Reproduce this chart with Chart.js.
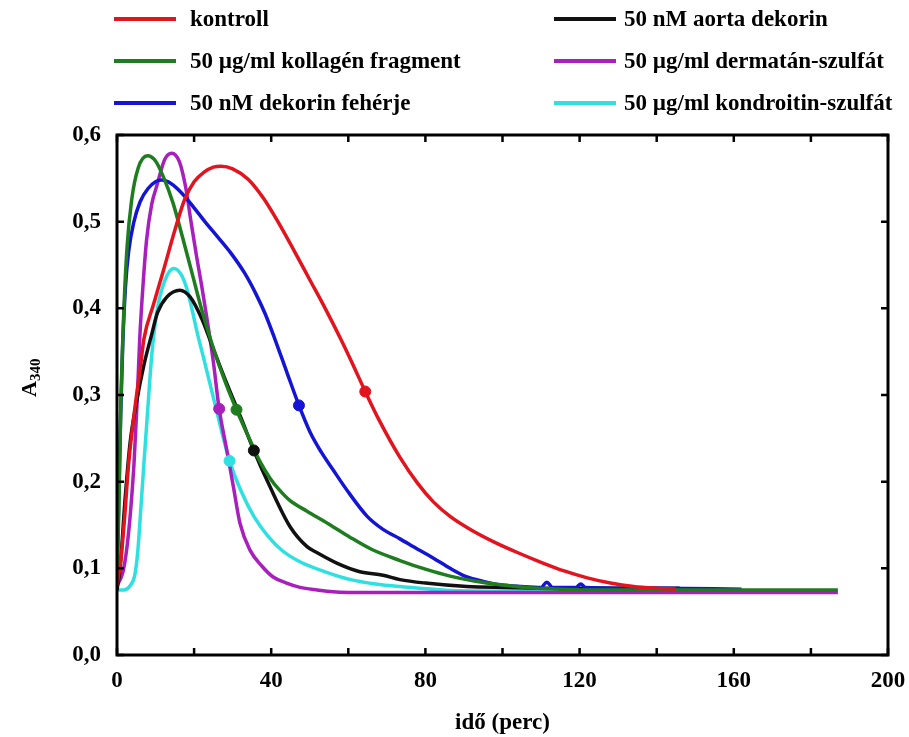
<!DOCTYPE html>
<html>
<head>
<meta charset="utf-8">
<script src="https://cdn.jsdelivr.net/npm/chart.js@4.4.0/dist/chart.umd.min.js"></script>
<style>
  html, body { margin: 0; padding: 0; background: #fff; }
  #wrap { width: 909px; height: 737px; }
</style>
</head>
<body>
<div id="wrap"><canvas id="myChart" width="909" height="737"></canvas></div>
<script>
// idő (perc) / A340 értékek
const kontrollX = [0, 1, 2, 3, 4.5, 6, 7, 9.5, 12, 15, 17.5, 20, 22.5, 25, 27, 30, 34, 38, 42, 46, 50, 54, 58, 61, 64.4, 68, 73.4, 78, 82, 86.4, 92, 98, 104, 110, 116, 122, 128, 134, 140, 145];
const kontrollY = [0.08, 0.11, 0.16, 0.22, 0.28, 0.33, 0.365, 0.405, 0.443, 0.49, 0.525, 0.546, 0.557, 0.563, 0.564, 0.561, 0.549, 0.527, 0.498, 0.466, 0.433, 0.400, 0.365, 0.337, 0.304, 0.271, 0.228, 0.198, 0.177, 0.160, 0.144, 0.130, 0.118, 0.107, 0.097, 0.089, 0.083, 0.079, 0.077, 0.076];

const kollagenX = [0, 0.5, 1, 1.8, 2.6, 3.8, 5.5, 7.9, 10, 12, 14.5, 17, 19.5, 22, 25, 28, 31, 34.5, 37, 39.7, 42, 44.9, 49.3, 55, 60.4, 66, 73.4, 80, 86.4, 93, 99.4, 106, 115, 130, 160, 187];
const kollagenY = [0.09, 0.17, 0.29, 0.40, 0.47, 0.525, 0.562, 0.576, 0.570, 0.552, 0.522, 0.482, 0.440, 0.398, 0.354, 0.316, 0.283, 0.248, 0.224, 0.204, 0.191, 0.178, 0.166, 0.151, 0.136, 0.122, 0.109, 0.099, 0.091, 0.085, 0.081, 0.078, 0.076, 0.075, 0.075, 0.075];

const dekorinX = [0, 0.4, 0.9, 1.5, 2.2, 3, 4.4, 6, 8, 10, 11.6, 14, 17, 20, 22.8, 26, 29.5, 33.2, 36, 38.4, 41, 44, 47.2, 50, 53, 56, 60, 64.9, 69, 73.4, 78, 82, 86.4, 90.8, 95, 99.4, 105, 110, 111.5, 113, 119, 120.3, 121.5, 140, 162];
const dekorinY = [0.09, 0.17, 0.27, 0.36, 0.425, 0.465, 0.50, 0.523, 0.538, 0.546, 0.548, 0.544, 0.532, 0.516, 0.500, 0.483, 0.464, 0.440, 0.417, 0.394, 0.364, 0.327, 0.288, 0.258, 0.234, 0.214, 0.188, 0.160, 0.145, 0.134, 0.122, 0.112, 0.100, 0.090, 0.085, 0.081, 0.079, 0.078, 0.084, 0.078, 0.078, 0.082, 0.078, 0.077, 0.076];

const aortaX = [0, 0.8, 2.1, 3.4, 5, 7, 9, 10.5, 12.9, 16.3, 19, 22, 25, 28.5, 32.3, 35.5, 39.7, 44.9, 49.3, 51.9, 57, 63, 69, 73.4, 80, 90.8, 100, 120, 146];
const aortaY = [0.075, 0.10, 0.18, 0.245, 0.29, 0.335, 0.37, 0.395, 0.413, 0.421, 0.413, 0.388, 0.353, 0.313, 0.272, 0.236, 0.194, 0.148, 0.125, 0.118, 0.106, 0.096, 0.092, 0.087, 0.083, 0.079, 0.078, 0.077, 0.077];

const dermatanX = [0, 1.5, 2.6, 3.5, 4.4, 5.2, 5.9, 6.8, 7.7, 9, 10.3, 12.4, 14.2, 16.2, 17.8, 19.2, 20.6, 22, 23.2, 25, 26.5, 28.5, 30.2, 31.9, 34.5, 37.5, 40.5, 44, 47.5, 52, 56, 65, 100, 140, 187];
const dermatanY = [0.08, 0.095, 0.125, 0.165, 0.22, 0.29, 0.365, 0.43, 0.48, 0.52, 0.541, 0.572, 0.579, 0.569, 0.54, 0.50, 0.461, 0.425, 0.392, 0.338, 0.284, 0.236, 0.194, 0.152, 0.121, 0.103, 0.090, 0.083, 0.078, 0.075, 0.073, 0.072, 0.072, 0.072, 0.072];

const kondroitinX = [0, 1.8, 3.4, 4.6, 5.4, 6.2, 7.0, 8.0, 9.0, 10.3, 12.4, 14.7, 16.5, 18.1, 19.5, 20.8, 22.5, 25.5, 29.2, 32.3, 35.5, 39.2, 43, 47.7, 54, 60.6, 67, 73.4, 89, 130];
const kondroitinY = [0.075, 0.075, 0.08, 0.092, 0.12, 0.17, 0.222, 0.285, 0.345, 0.395, 0.432, 0.446, 0.440, 0.423, 0.398, 0.372, 0.342, 0.288, 0.224, 0.188, 0.160, 0.137, 0.120, 0.107, 0.096, 0.087, 0.082, 0.079, 0.074, 0.073];

// jelölt pontok (félérték)
const markerX = [64.4, 31, 47.2, 35.5, 26.5, 29.2];
const markerY = [0.304, 0.283, 0.288, 0.236, 0.284, 0.224];

const seriesNames = ['kontroll', '50 µg/ml kollagén fragment', '50 nM dekorin fehérje',
                     '50 nM aorta dekorin', '50 µg/ml dermatán-szulfát', '50 µg/ml kondroitin-szulfát'];
const seriesX = [kontrollX, kollagenX, dekorinX, aortaX, dermatanX, kondroitinX];
const seriesY = [kontrollY, kollagenY, dekorinY, aortaY, dermatanY, kondroitinY];
const colors = ['#e3141e', '#1e7d1e', '#1414d6', '#111111', '#a81fbe', '#2fe0e0'];

const FONT = '"Liberation Serif", "Times New Roman", serif';

const datasets = [];
seriesNames.forEach((name, i) => {
  datasets.push({
    label: name,
    data: seriesX[i].map((x, k) => ({ x: x, y: seriesY[i][k] })),
    borderColor: colors[i],
    backgroundColor: colors[i],
    borderWidth: 3.5,
    pointRadius: 0,
    fill: false,
    cubicInterpolationMode: 'monotone',
    order: 1
  });
});
seriesNames.forEach((name, i) => {
  datasets.push({
    type: 'scatter',
    label: name + ' pont',
    data: [{ x: markerX[i], y: markerY[i] }],
    backgroundColor: colors[i],
    borderColor: colors[i],
    pointRadius: 5.5,
    showLine: false,
    order: 0
  });
});

// keret + befelé álló osztások
const framePlugin = {
  id: 'frame',
  afterDatasetsDraw(chart) {
    const { ctx, chartArea: a, scales } = chart;
    ctx.save();
    ctx.strokeStyle = '#000';
    ctx.lineWidth = 2.5;
    ctx.beginPath();
    scales.x.ticks.forEach(t => {
      const px = scales.x.getPixelForValue(t.value);
      ctx.moveTo(px, a.bottom); ctx.lineTo(px, a.bottom - 7);
      ctx.moveTo(px, a.top); ctx.lineTo(px, a.top + 7);
    });
    scales.y.ticks.forEach(t => {
      const py = scales.y.getPixelForValue(t.value);
      ctx.moveTo(a.left, py); ctx.lineTo(a.left + 7, py);
      ctx.moveTo(a.right, py); ctx.lineTo(a.right - 7, py);
    });
    ctx.stroke();
    ctx.lineWidth = 3;
    ctx.strokeRect(a.left, a.top, a.right - a.left, a.bottom - a.top);
    ctx.restore();
  }
};

// y tengely felirat alsó indexszel
const yTitlePlugin = {
  id: 'yTitle',
  afterDraw(chart) {
    const ctx = chart.ctx;
    ctx.save();
    ctx.translate(36, 385);
    ctx.rotate(-Math.PI / 2);
    ctx.fillStyle = '#000';
    ctx.textBaseline = 'alphabetic';
    ctx.font = 'bold 22px ' + FONT;
    ctx.fillText('A', -12, 0);
    const w = ctx.measureText('A').width;
    ctx.font = 'bold 15px ' + FONT;
    ctx.fillText('340', -12 + w, 4);
    ctx.restore();
  }
};

// kétoszlopos jelmagyarázat
const legendPlugin = {
  id: 'twoColLegend',
  afterDraw(chart) {
    const ctx = chart.ctx;
    ctx.save();
    ctx.font = 'bold 23px ' + FONT;
    ctx.textBaseline = 'middle';
    ctx.fillStyle = '#000';
    seriesNames.forEach((name, i) => {
      const col = i < 3 ? 0 : 1;
      const row = i % 3;
      const x0 = col === 0 ? 114 : 554;
      const tx = col === 0 ? 190 : 624;
      const y = 19 + row * 42;
      ctx.strokeStyle = colors[i];
      ctx.lineWidth = 4;
      ctx.beginPath();
      ctx.moveTo(x0, y);
      ctx.lineTo(x0 + 62, y);
      ctx.stroke();
      ctx.fillText(name, tx, y + 1);
    });
    ctx.restore();
  }
};

const tickFont = { family: FONT, size: 23, weight: 'bold' };

const ctx = document.getElementById('myChart').getContext('2d');
const chart = new Chart(ctx, {
  type: 'line',
  data: { datasets: datasets },
  options: {
    responsive: false,
    animation: false,
    devicePixelRatio: 1,
    layout: { padding: { top: 135, right: 21, left: 0, bottom: 0 } },
    plugins: {
      legend: { display: false },
      tooltip: { enabled: false }
    },
    scales: {
      x: {
        type: 'linear',
        min: 0,
        max: 200,
        grid: { display: false, drawTicks: false },
        border: { display: false },
        ticks: {
          stepSize: 20,
          autoSkip: false,
          maxRotation: 0,
          padding: 12,
          color: '#000',
          font: tickFont,
          callback: v => (v % 40 === 0 ? String(v) : '')
        },
        title: {
          display: true,
          text: 'idő (perc)',
          color: '#000',
          font: tickFont,
          padding: { top: 0, bottom: 0 }
        },
        afterFit(s) { s.height = 82; s.paddingLeft = 0; s.paddingRight = 0; }
      },
      y: {
        min: 0,
        max: 0.6,
        grid: { display: false, drawTicks: false },
        border: { display: false },
        ticks: {
          stepSize: 0.1,
          padding: 16,
          color: '#000',
          font: tickFont,
          callback: v => v.toFixed(1).replace('.', ',')
        },
        afterFit(s) { s.width = 117; s.paddingTop = 0; s.paddingBottom = 0; }
      }
    }
  },
  plugins: [framePlugin, yTitlePlugin, legendPlugin]
});
</script>
</body>
</html>
